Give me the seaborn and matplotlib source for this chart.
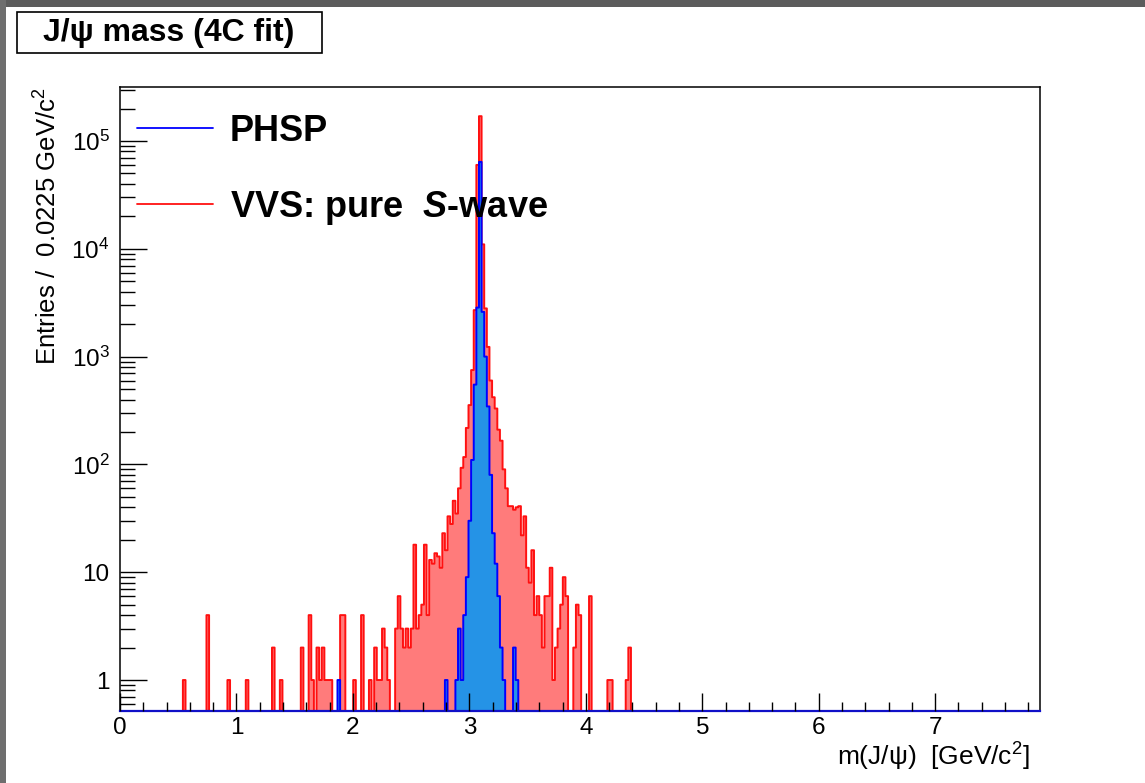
import numpy as np
import pandas as pd
import matplotlib
matplotlib.use("Agg")
import matplotlib.pyplot as plt
from matplotlib.lines import Line2D
from matplotlib.patches import Rectangle
from matplotlib.ticker import MultipleLocator, LogLocator, NullFormatter
from matplotlib.font_manager import FontProperties
import seaborn as sns

# ---------------- data ----------------
BIN_WIDTH = 0.0225          # GeV/c^2
N_BINS = 352
X_RANGE = (0.0, 7.9)
Y_RANGE = (0.516, 3.17e5)

# VVS: pure S-wave (red) -- bin centre [GeV/c^2] and entries
vvs_mass = [0.551, 0.754, 0.934, 1.091, 1.316, 1.384, 1.564, 1.631, 1.654, 1.699,
            1.721, 1.744, 1.766, 1.789, 1.811, 1.901, 1.924, 2.014, 2.081, 2.149,
            2.194, 2.216, 2.239, 2.261, 2.284, 2.306, 2.374, 2.396, 2.419, 2.441,
            2.464, 2.486, 2.509, 2.531, 2.554, 2.576, 2.599, 2.621, 2.644, 2.666,
            2.689, 2.711, 2.734, 2.756, 2.779, 2.801, 2.824, 2.846, 2.869, 2.891,
            2.914, 2.936, 2.959, 2.981, 3.004, 3.026, 3.049, 3.071, 3.094, 3.116,
            3.139, 3.161, 3.184, 3.206, 3.229, 3.251, 3.274, 3.296, 3.319, 3.341,
            3.364, 3.386, 3.409, 3.431, 3.454, 3.476, 3.499, 3.521, 3.544, 3.566,
            3.589, 3.611, 3.634, 3.656, 3.679, 3.701, 3.724, 3.746, 3.769, 3.791,
            3.814, 3.836, 3.904, 3.926, 3.949, 4.039, 4.196, 4.219, 4.354, 4.376]
vvs_count = [1, 4, 1, 1, 2, 1, 2, 4, 1, 2,
             1, 2, 1, 1, 1, 4, 4, 1, 4, 1,
             2, 1, 1, 3, 2, 1, 3, 6, 3, 2,
             3, 2, 3, 18, 3, 4, 5, 18, 4, 13,
             12, 15, 14, 11, 23, 16, 33, 28, 46, 35,
             60, 93, 117, 218, 355, 750, 2700, 60000, 170000, 11000,
             2800, 1230, 600, 420, 330, 210, 166, 90, 60, 41,
             41, 38, 40, 41, 22, 33, 11, 8, 16, 4,
             6, 4, 2, 6, 6, 11, 1, 2, 3, 5,
             9, 6, 2, 5, 4, 6, 1, 1, 1, 2]

# PHSP (blue)
phsp_mass = [1.879, 2.801, 2.891, 2.914, 2.936, 2.959, 2.981, 3.004, 3.026, 3.049,
             3.071, 3.094, 3.116, 3.139, 3.161, 3.184, 3.206, 3.229, 3.251, 3.274,
             3.296, 3.386, 3.409]
phsp_count = [1, 1, 1, 3, 1, 4, 9, 30, 110, 550,
              2850, 64000, 2600, 1000, 345, 80, 23, 12, 6, 2,
              1, 2, 1]

x_ticks = [0, 1, 2, 3, 4, 5, 6, 7]
x_tick_labels = ["0", "1", "2", "3", "4", "5", "6", "7"]
y_ticks = [1, 10, 100, 1000, 10000, 100000]
y_tick_labels = ["1", "10", r"$10^{2}$", r"$10^{3}$", r"$10^{4}$", r"$10^{5}$"]

title_text = "J/\u03c8 mass (4C fit)"
x_label = "m(J/\u03c8)  [GeV/c$^{2}$]"
y_label = "Entries /  0.0225 GeV/c$^{2}$"
legend_labels = ["PHSP", r"VVS: pure  $S$-wave"]

# ---------------- style ----------------
sns.set_style("white")
plt.rcParams["font.family"] = ["Liberation Sans", "DejaVu Sans"]
plt.rcParams["mathtext.fontset"] = "custom"
plt.rcParams["mathtext.rm"] = "Liberation Sans"
plt.rcParams["mathtext.it"] = "Liberation Sans:italic:bold"
plt.rcParams["mathtext.bf"] = "Liberation Sans:bold"
plt.rcParams["text.color"] = "black"
plt.rcParams["axes.labelcolor"] = "black"
plt.rcParams["xtick.color"] = "black"
plt.rcParams["ytick.color"] = "black"

RED_FILL = "#ff7b7b"
RED_LINE = "#ff1010"
BLUE_FILL = "#2593e6"
BLUE_LINE = "#0000ff"

W, H = 1145, 783
fig = plt.figure(figsize=(W / 100, H / 100), dpi=100)
fig.patch.set_facecolor("white")
ax = fig.add_axes([120 / W, 1 - 711 / H, 920 / W, 624 / H])

edges = (np.arange(N_BINS + 1) * BIN_WIDTH).tolist()
vvs = pd.DataFrame({"mass": vvs_mass, "entries": vvs_count})
phsp = pd.DataFrame({"mass": phsp_mass, "entries": phsp_count})

sns.histplot(data=vvs, x="mass", weights="entries", bins=edges, element="step",
             fill=True, alpha=1, color=RED_FILL, edgecolor=RED_LINE,
             linewidth=1.4, ax=ax)
sns.histplot(data=phsp, x="mass", weights="entries", bins=edges, element="step",
             fill=True, alpha=1, color=BLUE_FILL, edgecolor=BLUE_LINE,
             linewidth=1.4, ax=ax)

ax.set_yscale("log")
ax.set_xlim(*X_RANGE)
ax.set_ylim(*Y_RANGE)
ax.set_axisbelow(False)

ax.set_xticks(x_ticks, x_tick_labels)
ax.xaxis.set_minor_locator(MultipleLocator(0.2))
ax.set_yticks(y_ticks, y_tick_labels)
ax.yaxis.set_minor_locator(LogLocator(base=10, subs=np.arange(2, 10), numticks=50))
ax.yaxis.set_minor_formatter(NullFormatter())

ax.tick_params(which="both", bottom=True, left=True, top=False, right=False,
               direction="in", color="black", width=1.0)
ax.tick_params(axis="x", which="major", length=13, pad=4, labelsize=17.5)
ax.tick_params(axis="x", which="minor", length=6.5)
ax.tick_params(axis="y", which="major", length=19.5, pad=7.5, labelsize=17.5)
ax.tick_params(axis="y", which="minor", length=10.5)

for side in ["left", "right", "top", "bottom"]:
    ax.spines[side].set_visible(True)
    ax.spines[side].set_color("black")
    ax.spines[side].set_linewidth(1.1)
ax.spines["bottom"].set_color("#1010c8")
ax.spines["bottom"].set_linewidth(1.6)

ax.set_xlabel(x_label, fontsize=19, ha="right", va="center")
ax.xaxis.set_label_coords((1030 - 120) / 920, -(757 - 711) / 624)
ax.set_ylabel(y_label, fontsize=18.5, ha="right", va="center")
ax.yaxis.set_label_coords((48 - 120) / 920, 1.0)

handles = [Line2D([], [], color=BLUE_LINE, lw=1.3), Line2D([], [], color=RED_LINE, lw=1.3)]
leg = ax.legend(handles, legend_labels, loc="upper left",
                bbox_to_anchor=(17 / 920, 0.957), frameon=False,
                prop=FontProperties(family="Liberation Sans", weight="bold", size=26),
                handlelength=2.1, handletextpad=0.47, labelspacing=1.1,
                borderpad=0, borderaxespad=0)

# title box (ROOT style)
fig.add_artist(Rectangle((17 / W, 1 - 53 / H), 305 / W, 41 / H, transform=fig.transFigure,
                         facecolor="white", edgecolor="black", linewidth=1.2))
fig.text(169 / W, 1 - 33 / H, title_text, ha="center", va="center",
         fontsize=23, fontweight="bold")

# screenshot frame strips
fig.add_artist(Rectangle((0, 1 - 7 / H), 1, 7 / H, transform=fig.transFigure,
                         facecolor="#5c5c5c", edgecolor="none"))
fig.add_artist(Rectangle((0, 0), 6 / W, 1, transform=fig.transFigure,
                         facecolor="#6e6e6e", edgecolor="none"))

fig.savefig("out.png", dpi=100)
